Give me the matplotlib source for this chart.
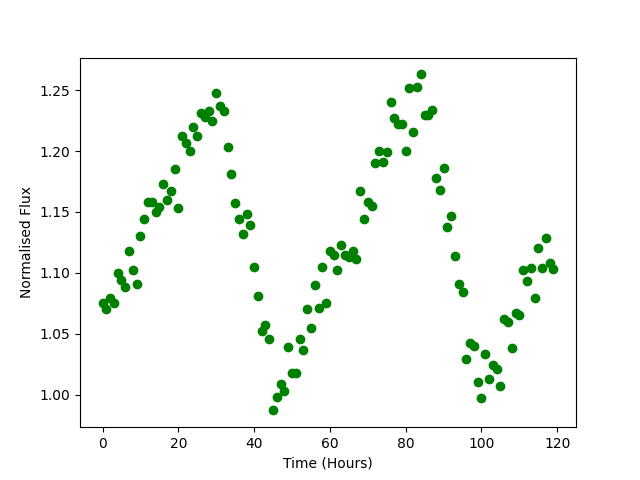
import numpy as np
import matplotlib
matplotlib.use("Agg")
import matplotlib.pyplot as plt

# hourly samples
time_hours = np.arange(120)
flux = [
    1.075, 1.070, 1.079, 1.075, 1.100, 1.094, 1.088, 1.118, 1.102, 1.091,
    1.130, 1.144, 1.158, 1.158, 1.150, 1.154, 1.173, 1.160, 1.167, 1.185,
    1.153, 1.212, 1.207, 1.200, 1.220, 1.212, 1.231, 1.228, 1.233, 1.225,
    1.248, 1.237, 1.233, 1.203, 1.181, 1.157, 1.144, 1.132, 1.148, 1.139,
    1.105, 1.081, 1.052, 1.057, 1.046, 0.987, 0.998, 1.009, 1.003, 1.039,
    1.018, 1.018, 1.046, 1.037, 1.070, 1.055, 1.090, 1.071, 1.105, 1.075,
    1.118, 1.115, 1.102, 1.123, 1.115, 1.113, 1.118, 1.111, 1.167, 1.144,
    1.158, 1.155, 1.190, 1.200, 1.191, 1.199, 1.240, 1.227, 1.222, 1.222,
    1.200, 1.252, 1.216, 1.253, 1.263, 1.230, 1.230, 1.234, 1.178, 1.168,
    1.186, 1.138, 1.147, 1.114, 1.091, 1.084, 1.029, 1.042, 1.040, 1.010,
    0.997, 1.033, 1.013, 1.024, 1.021, 1.007, 1.062, 1.060, 1.038, 1.067,
    1.065, 1.102, 1.093, 1.104, 1.079, 1.120, 1.104, 1.129, 1.108, 1.103,
]

plt.figure(figsize=(6.4, 4.8), dpi=100)
plt.plot(time_hours, flux, "go")
plt.xlabel("Time (Hours)")
plt.ylabel("Normalised Flux")
plt.savefig("out.png")
